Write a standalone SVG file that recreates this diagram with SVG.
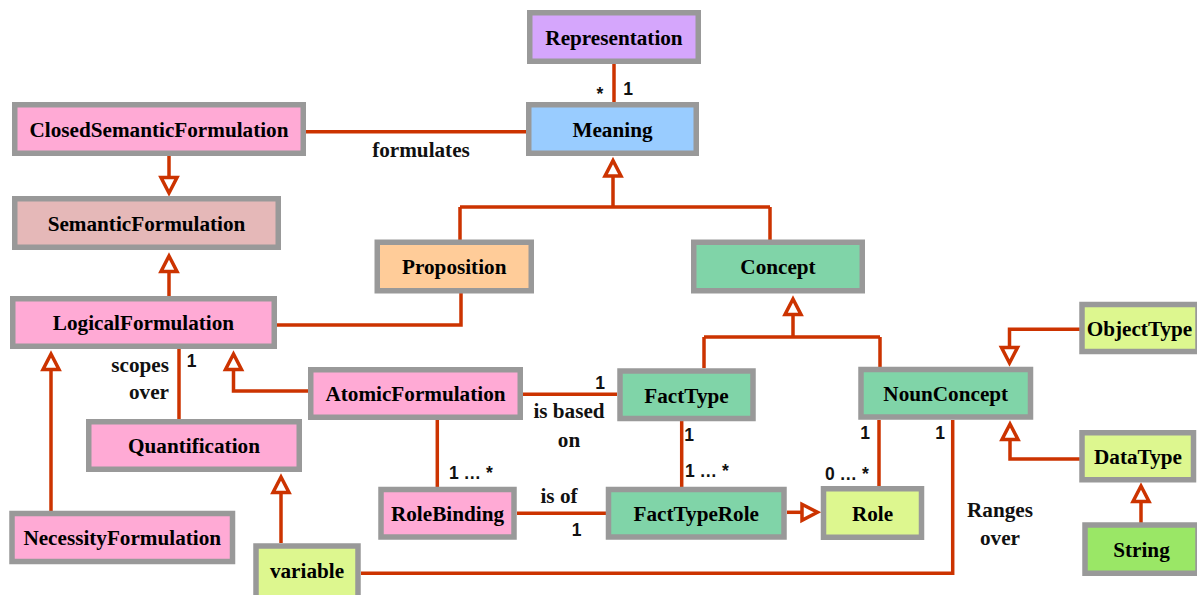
<svg xmlns="http://www.w3.org/2000/svg" xmlns:xlink="http://www.w3.org/1999/xlink" width="1197" height="595" viewBox="0 0 1197 595">
  <style>
    .box { stroke: #999999; stroke-width: 5.5; }
    .name { font-family: "Liberation Serif", "Times New Roman", serif; font-weight: bold; font-size: 21.2px; fill: #000; text-anchor: middle; }
    .rel { font-family: "Liberation Serif", "Times New Roman", serif; font-weight: bold; font-size: 21.2px; fill: #111; }
    .mult { font-family: "Liberation Sans", Arial, sans-serif; font-weight: bold; font-size: 17.5px; fill: #111; }
    .link { fill: none; stroke: #CC3300; stroke-width: 3.5; }
    .pink { fill: #FFAAD5; }
    .green { fill: #80D4A8; }
    .lime { fill: #DDF78F; }
  </style>
  <defs>
    <!-- hollow generalization head, origin at the outer tip, pointing up -->
    <path id="gen" d="M0,4 L8,19.5 L-8,19.5 Z" fill="#FFFFFF" stroke="#CC3300" stroke-width="3.5" stroke-linejoin="miter"/>
  </defs>

  <rect width="1197" height="595" fill="#FFFFFF"/>

  <!-- connectors -->
  <g id="connectors">
    <path class="link" d="M614,64 V102"/>
    <path class="link" d="M306,131.7 H526"/>
    <path class="link" d="M169,156 V177.5"/>
    <use xlink:href="#gen" transform="translate(169,197) rotate(180)"/>
    <path class="link" d="M169,296 V271.5"/>
    <use xlink:href="#gen" transform="translate(169,252)"/>
    <path class="link" d="M613,176 V207 M460,207 H770 M460,207 V240 M770,207 V240"/>
    <use xlink:href="#gen" transform="translate(613,156.5)"/>
    <path class="link" d="M461,293 V325 H277"/>
    <path class="link" d="M793,314 V337 M704,337 H880 M704,337 V368 M880,337 V367"/>
    <use xlink:href="#gen" transform="translate(793,295)"/>
    <path class="link" d="M179,349 V419"/>
    <path class="link" d="M51,511 V369"/>
    <use xlink:href="#gen" transform="translate(51,350)"/>
    <path class="link" d="M308,391 H233.5 V369"/>
    <use xlink:href="#gen" transform="translate(233.5,350)"/>
    <path class="link" d="M281,543 V492"/>
    <use xlink:href="#gen" transform="translate(281,473)"/>
    <path class="link" d="M361,573.3 H952.7 V420"/>
    <path class="link" d="M523,394.3 H617"/>
    <path class="link" d="M437.3,420 V487"/>
    <path class="link" d="M681.7,421 V487"/>
    <path class="link" d="M517,513.3 H606"/>
    <path class="link" d="M787,512.3 H803"/>
    <use xlink:href="#gen" transform="translate(821.5,512.3) rotate(90)"/>
    <path class="link" d="M879,420 V486"/>
    <path class="link" d="M1080,329.3 H1009.5 V348"/>
    <use xlink:href="#gen" transform="translate(1009.5,367) rotate(180)"/>
    <path class="link" d="M1080,459 H1010 V438"/>
    <use xlink:href="#gen" transform="translate(1010,420)"/>
    <path class="link" d="M1141,523 V501"/>
    <use xlink:href="#gen" transform="translate(1141,482)"/>

    <!-- association labels -->
    <text class="rel" x="421" y="157" text-anchor="middle">formulates</text>
    <text class="rel" x="169" y="372" text-anchor="end">scopes</text>
    <text class="rel" x="169" y="399" text-anchor="end">over</text>
    <text class="rel" x="569" y="418" text-anchor="middle">is based</text>
    <text class="rel" x="569" y="446.5" text-anchor="middle">on</text>
    <text class="rel" x="559" y="503" text-anchor="middle">is of</text>
    <text class="rel" x="1000" y="517" text-anchor="middle">Ranges</text>
    <text class="rel" x="1000" y="545" text-anchor="middle">over</text>

    <!-- multiplicities -->
    <text class="mult" x="600" y="100" text-anchor="middle">*</text>
    <text class="mult" x="628" y="95" text-anchor="middle">1</text>
    <text class="mult" x="191.5" y="367" text-anchor="middle">1</text>
    <text class="mult" x="600" y="388.5" text-anchor="middle">1</text>
    <text class="mult" x="689" y="441" text-anchor="middle">1</text>
    <text class="mult" x="685" y="477">1 … *</text>
    <text class="mult" x="449" y="479">1 … *</text>
    <text class="mult" x="576.7" y="536" text-anchor="middle">1</text>
    <text class="mult" x="865" y="439" text-anchor="middle">1</text>
    <text class="mult" x="940" y="439" text-anchor="middle">1</text>
    <text class="mult" x="825" y="480">0 … *</text>
  </g>

  <!-- classes -->
  <g id="Representation">
    <rect class="box" x="529.75" y="12.75" width="168.5" height="48.5" fill="#D5A6FC"/>
    <text class="name" x="614" y="44.5">Representation</text>
  </g>
  <g id="Meaning">
    <rect class="box" x="528.75" y="104.75" width="167.5" height="48.5" fill="#99CCFF"/>
    <text class="name" x="612.5" y="136.5">Meaning</text>
  </g>
  <g id="ClosedSemanticFormulation">
    <rect class="box pink" x="14.75" y="104.75" width="288.5" height="48.5"/>
    <text class="name" x="159" y="136.5">ClosedSemanticFormulation</text>
  </g>
  <g id="SemanticFormulation">
    <rect class="box" x="14.75" y="198.75" width="263.5" height="48.5" fill="#E5B8B8"/>
    <text class="name" x="146.5" y="230.5">SemanticFormulation</text>
  </g>
  <g id="Proposition">
    <rect class="box" x="377.25" y="242.25" width="154" height="48.5" fill="#FFCC99"/>
    <text class="name" x="454.25" y="274">Proposition</text>
  </g>
  <g id="Concept">
    <rect class="box green" x="693.75" y="242.25" width="168.5" height="48.5"/>
    <text class="name" x="778" y="274">Concept</text>
  </g>
  <g id="LogicalFormulation">
    <rect class="box pink" x="12.75" y="298.75" width="261.5" height="47.5"/>
    <text class="name" x="143.5" y="330">LogicalFormulation</text>
  </g>
  <g id="AtomicFormulation">
    <rect class="box pink" x="310.75" y="369.75" width="209.5" height="47.5"/>
    <text class="name" x="415.5" y="401">AtomicFormulation</text>
  </g>
  <g id="Quantification">
    <rect class="box pink" x="88.75" y="421.75" width="210.5" height="47.5"/>
    <text class="name" x="194" y="453">Quantification</text>
  </g>
  <g id="NecessityFormulation">
    <rect class="box pink" x="12" y="513.5" width="220.5" height="48"/>
    <text class="name" x="122.25" y="545">NecessityFormulation</text>
  </g>
  <g id="variable">
    <rect class="box lime" x="256" y="546" width="102" height="52"/>
    <text class="name" x="307" y="578">variable</text>
  </g>
  <g id="RoleBinding">
    <rect class="box pink" x="381" y="489.5" width="133" height="47.5"/>
    <text class="name" x="447.5" y="521">RoleBinding</text>
  </g>
  <g id="FactType">
    <rect class="box green" x="620" y="371" width="133" height="47.5"/>
    <text class="name" x="686.5" y="402.5">FactType</text>
  </g>
  <g id="FactTypeRole">
    <rect class="box green" x="608.5" y="489.5" width="175.5" height="47.5"/>
    <text class="name" x="696.25" y="521">FactTypeRole</text>
  </g>
  <g id="Role">
    <rect class="box lime" x="823.5" y="488.75" width="98" height="48.5"/>
    <text class="name" x="872.5" y="520.5">Role</text>
  </g>
  <g id="NounConcept">
    <rect class="box green" x="861" y="369.5" width="169.5" height="47.5"/>
    <text class="name" x="945.75" y="401">NounConcept</text>
  </g>
  <g id="ObjectType">
    <rect class="box lime" x="1082" y="304.5" width="116" height="47"/>
    <text class="name" x="1139.5" y="335.5">ObjectType</text>
  </g>
  <g id="DataType">
    <rect class="box lime" x="1082" y="432.75" width="111.5" height="47"/>
    <text class="name" x="1138" y="464">DataType</text>
  </g>
  <g id="String">
    <rect class="box" x="1085" y="525" width="113" height="48.25" fill="#9AE766"/>
    <text class="name" x="1141.5" y="557">String</text>
  </g>
</svg>
